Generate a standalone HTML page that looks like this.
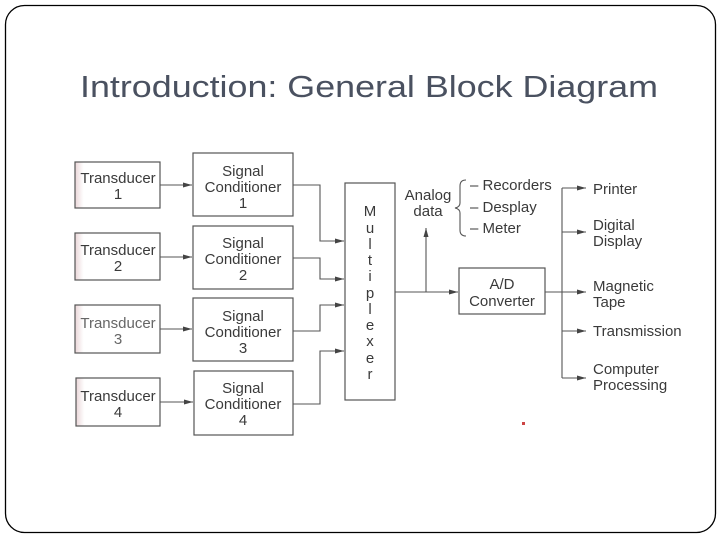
<!DOCTYPE html>
<html><head><meta charset="utf-8"><style>
html,body{margin:0;padding:0;background:#fff;}
svg{display:block;}
text{font-family:"Liberation Sans",sans-serif;fill:#3a3a3a;}
</style></head><body>
<svg width="720" height="540" viewBox="0 0 720 540" xmlns="http://www.w3.org/2000/svg">
<defs>
<marker id="a" markerWidth="10" markerHeight="8" refX="9" refY="4" orient="auto" markerUnits="userSpaceOnUse">
<path d="M0,1.5 L9,4 L0,6.5 Z" fill="#444"/></marker>
<linearGradient id="sh" x1="0" x2="1" y1="0" y2="0">
<stop offset="0" stop-color="#ead6d8"/><stop offset="0.1" stop-color="#fff"/></linearGradient>
</defs>
<rect x="5.5" y="5.5" width="710" height="527" rx="19" fill="#fff" stroke="#000" stroke-width="1.3"/>
<text x="80" y="97" font-size="31" style="fill:#4a5160" textLength="578" lengthAdjust="spacingAndGlyphs">Introduction: General Block Diagram</text>
<g stroke="#555" stroke-width="1.2" fill="none">
<rect x="75" y="162" width="85" height="46" fill="url(#sh)"/>
<rect x="75" y="233" width="85" height="47" fill="url(#sh)"/>
<rect x="75" y="305" width="85" height="48" fill="url(#sh)"/>
<rect x="76" y="378" width="84" height="48" fill="url(#sh)"/>
<rect x="193" y="153" width="100" height="63"/>
<rect x="193" y="226" width="100" height="63"/>
<rect x="193" y="298" width="100" height="63"/>
<rect x="194" y="371" width="99" height="64"/>
<rect x="345" y="183" width="50" height="217"/>
<rect x="459" y="268" width="86" height="46"/>
</g>
<g stroke="#555" stroke-width="1.1" fill="none" marker-end="url(#a)">
<path d="M160 185 H192"/><path d="M160 257 H192"/><path d="M160 329 H192"/><path d="M160 402 H193"/>
<path d="M293 185 H320 V241 H344"/>
<path d="M293 258 H320 V279 H344"/>
<path d="M293 331 H320 V305 H344"/>
<path d="M293 404 H320 V351 H344"/>
<path d="M395 292 H458"/>
<path d="M426 292 V228"/>
<path d="M545 292 H586"/>
<path d="M562 188 H586"/><path d="M562 232 H586"/><path d="M562 331 H586"/><path d="M562 378 H586"/>
</g>
<path d="M562 188 V378" stroke="#555" stroke-width="1.1" fill="none"/>
<path d="M466 180 Q460 180 460 186 V203 Q460 207 455 208 Q460 209 460 213 V230 Q460 236 466 236" stroke="#555" stroke-width="1.1" fill="none"/>
<g font-size="15" text-anchor="middle">
<text x="118" y="183">Transducer</text><text x="118" y="199">1</text>
<text x="118" y="255">Transducer</text><text x="118" y="271">2</text>
<text x="118" y="328" style="fill:#666">Transducer</text><text x="118" y="344" style="fill:#666">3</text>
<text x="118" y="401">Transducer</text><text x="118" y="417">4</text>
<text x="243" y="176">Signal</text><text x="243" y="192">Conditioner</text><text x="243" y="208">1</text>
<text x="243" y="248">Signal</text><text x="243" y="264">Conditioner</text><text x="243" y="280">2</text>
<text x="243" y="321">Signal</text><text x="243" y="337">Conditioner</text><text x="243" y="353">3</text>
<text x="243" y="393">Signal</text><text x="243" y="409">Conditioner</text><text x="243" y="425">4</text>
<text x="370" y="216">M</text><text x="370" y="233">u</text><text x="370" y="249">l</text><text x="370" y="265">t</text>
<text x="370" y="281">i</text><text x="370" y="298">p</text><text x="370" y="314">l</text><text x="370" y="330">e</text>
<text x="370" y="346">x</text><text x="370" y="363">e</text><text x="370" y="379">r</text>
<text x="502" y="289">A/D</text><text x="502" y="306">Converter</text>
<text x="428" y="200">Analog</text><text x="428" y="216">data</text>
</g>
<g font-size="15">
<text x="470" y="190">– Recorders</text>
<text x="470" y="212">– Desplay</text>
<text x="470" y="233">– Meter</text>
<text x="593" y="194">Printer</text>
<text x="593" y="230">Digital</text><text x="593" y="246">Display</text>
<text x="593" y="291">Magnetic</text><text x="593" y="307">Tape</text>
<text x="593" y="336">Transmission</text>
<text x="593" y="374">Computer</text><text x="593" y="390">Processing</text>
</g>
<rect x="522" y="422" width="3" height="3" fill="#c44"/>
</svg>
</body></html>
